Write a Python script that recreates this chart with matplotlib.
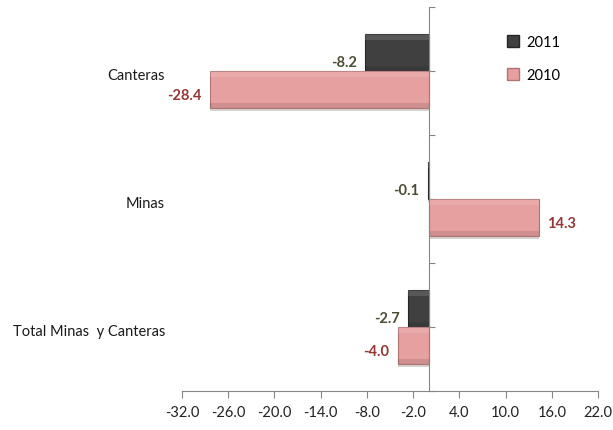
import numpy as np
import matplotlib
matplotlib.use("Agg")
import matplotlib.pyplot as plt
from matplotlib.patches import Patch

plt.rcParams['font.family'] = ['Lato', 'DejaVu Sans']

# data
categories = ['Canteras', 'Minas', 'Total Minas  y Canteras']
series_names = ['2011', '2010']
vals_2011 = [-8.2, -0.1, -2.7]
vals_2010 = [-28.4, 14.3, -4.0]
xticks = [-32.0, -26.0, -20.0, -14.0, -8.0, -2.0, 4.0, 10.0, 16.0, 22.0]

col_2011 = '#404040'
col_2010 = '#e6a09f'
lab_2011 = '#4d4d33'
lab_2010 = '#953735'
fs = 10.5

fig = plt.figure(figsize=(6.13, 4.31), dpi=100)
ax = fig.add_axes([182/613, 39/431, 416/613, 384/431])

ypos = np.array([1, 3, 5])
h = 0.58


def bevel_bars(y, vals, color, edge):
    # soft shadow
    ax.barh(y + 0.05, vals, height=h, left=0, color='#a0a0a0', alpha=0.45,
            zorder=1, linewidth=0)
    bars = ax.barh(y, vals, height=h, color=color, edgecolor=edge,
                   linewidth=0.8, zorder=2)
    # faint light strip at the top and dark strip at the bottom (bevel)
    ax.barh(y - h / 2 + 0.05, vals, height=0.09, color='white', alpha=0.13,
            zorder=3, linewidth=0)
    ax.barh(y + h / 2 - 0.04, vals, height=0.07, color='black', alpha=0.10,
            zorder=3, linewidth=0)
    return bars


bevel_bars(ypos - h / 2, vals_2011, col_2011, '#262626')
bevel_bars(ypos + h / 2, vals_2010, col_2010, '#b07474')

# data labels (excel puts them a bit below the bar centre)
for y, v in zip(ypos - h / 2, vals_2011):
    ha = 'right' if v < 0 else 'left'
    ax.annotate('%.1f' % v, (v, y), xytext=(-6 if v < 0 else 6, -7),
                textcoords='offset points', ha=ha, va='center',
                fontsize=fs, fontweight='bold', color=lab_2011)
for y, v in zip(ypos + h / 2, vals_2010):
    ha = 'right' if v < 0 else 'left'
    ax.annotate('%.1f' % v, (v, y), xytext=(-6 if v < 0 else 6, -4),
                textcoords='offset points', ha=ha, va='center',
                fontsize=fs, fontweight='bold', color=lab_2010)

ax.set_xlim(-32, 22)
ax.set_ylim(6, 0)
ax.set_xticks(xticks)
ax.set_xticklabels(['%.1f' % t for t in xticks], fontsize=fs, color='#222222')
ax.set_yticks(range(7))
ax.set_yticklabels([])

for s in ['top', 'right']:
    ax.spines[s].set_visible(False)
ax.spines['left'].set_position(('data', 0))
ax.spines['left'].set_color('#868686')
ax.spines['bottom'].set_color('#868686')
ax.tick_params(axis='y', direction='in', length=4, color='#868686')
ax.tick_params(axis='x', direction='out', length=5, color='#868686', pad=5)
ax.spines['left'].set_zorder(5)

# category labels at the low end
for y, c in zip(ypos, categories):
    ax.text(-34.2, y + 0.06, c, ha='right', va='center', fontsize=fs,
            color='#1a1a1a', clip_on=False)

handles = [Patch(facecolor=col_2011, edgecolor='#262626'),
           Patch(facecolor=col_2010, edgecolor='#b07474')]
fig.legend(handles, series_names, loc='upper left',
           bbox_to_anchor=(494/613, 1 - 23/431), frameon=False,
           fontsize=fs, labelspacing=1.3, handlelength=0.8,
           handleheight=0.8, handletextpad=0.5)

fig.savefig('out.png', dpi=100)
